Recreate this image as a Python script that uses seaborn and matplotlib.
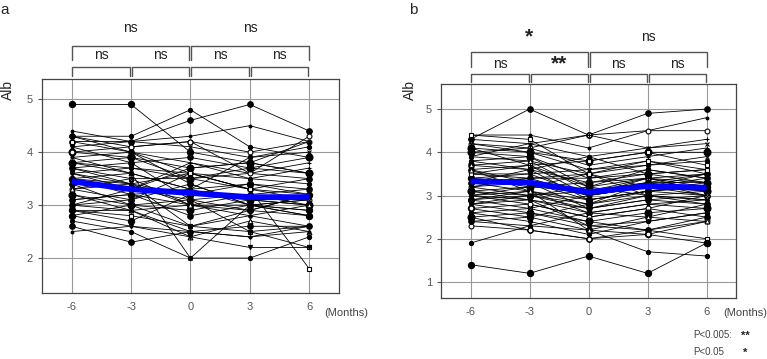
import numpy as np
import pandas as pd
import matplotlib
matplotlib.use("Agg")
import matplotlib.pyplot as plt
import seaborn as sns

# --- DATA ---
months = [-6, -3, 0, 3, 6]

# individual patients, panel a (Alb at -6, -3, 0, 3, 6 months)
alb_a = [
    [4.9, 4.9, 4.0, 3.8, 3.6], [4.3, 4.3, 4.8, 4.1, 3.9], [4.2, 4.2, 4.6, 4.9, 4.4],
    [4.4, 4.2, 4.3, 4.5, 4.2], [4.3, 4.1, 4.2, 4.0, 4.2], [4.1, 4.2, 4.1, 3.9, 4.0],
    [4.0, 3.9, 3.7, 3.8, 3.6], [3.9, 4.0, 3.8, 3.6, 3.8], [3.8, 3.7, 3.6, 3.5, 3.4],
    [3.8, 3.6, 3.3, 3.4, 3.3], [3.7, 3.8, 3.9, 3.7, 3.6], [3.7, 3.5, 3.5, 3.3, 3.2],
    [3.6, 3.4, 3.2, 3.1, 3.0], [3.6, 3.7, 3.5, 3.6, 3.5], [3.5, 3.2, 3.0, 3.0, 2.9],
    [3.5, 3.4, 3.6, 3.3, 3.1], [3.4, 3.3, 3.1, 3.2, 3.3], [3.4, 3.0, 2.6, 2.8, 2.6],
    [3.3, 3.1, 3.4, 3.0, 3.1], [3.3, 3.5, 3.0, 2.9, 3.2], [3.2, 3.0, 2.9, 3.1, 3.0],
    [3.2, 2.9, 2.5, 2.4, 2.6], [3.1, 3.2, 3.3, 3.0, 2.8], [3.0, 2.9, 2.4, 2.7, 2.5],
    [3.0, 3.1, 3.6, 3.3, 3.5], [2.9, 2.8, 2.6, 2.5, 2.2], [2.9, 2.9, 3.0, 2.8, 3.0],
    [2.8, 2.6, 2.4, 2.2, 2.2], [2.8, 3.0, 3.1, 2.9, 2.8], [2.7, 2.5, 2.0, 2.0, 2.4],
    [2.6, 2.3, 2.5, 2.6, 2.6], [2.5, 2.6, 2.5, 2.4, 2.5], [4.0, 4.1, 4.2, 3.6, 4.3],
    [3.9, 3.6, 2.0, 3.0, 3.1], [3.8, 3.9, 3.5, 3.7, 3.9], [3.6, 3.3, 3.8, 3.5, 3.7],
    [3.5, 3.6, 3.3, 3.9, 4.1], [3.3, 3.4, 3.0, 3.2, 3.0], [3.1, 3.2, 2.8, 3.0, 2.8],
    [4.2, 4.0, 3.6, 3.3, 1.8], [3.0, 3.3, 3.7, 3.8, 4.2], [4.1, 3.8, 3.1, 2.5, 2.6],
    [2.9, 2.7, 3.2, 3.4, 3.2], [3.7, 3.4, 2.6, 2.9, 3.2], [4.3, 4.0, 3.4, 3.0, 2.9],
]
mean_a = [3.45, 3.30, 3.23, 3.15, 3.15]

# individual patients, panel b
alb_b = [
    [1.4, 1.2, 1.6, 1.2, 1.9], [1.9, 2.3, 2.2, 1.7, 1.6], [4.3, 5.0, 4.4, 4.9, 5.0],
    [4.4, 4.4, 4.1, 4.5, 4.8], [4.2, 4.1, 4.4, 4.5, 4.5], [4.3, 4.2, 3.9, 4.1, 4.2],
    [4.1, 4.0, 3.8, 4.0, 4.0], [4.0, 4.1, 3.7, 3.9, 4.1], [3.9, 3.8, 3.5, 3.7, 3.8],
    [3.8, 3.9, 3.4, 3.5, 3.6], [3.7, 3.6, 3.3, 3.4, 3.5], [3.6, 3.7, 3.2, 3.6, 3.4],
    [3.5, 3.4, 3.0, 3.3, 3.3], [3.5, 3.5, 3.6, 3.8, 3.5], [3.4, 3.3, 2.9, 3.1, 3.2],
    [3.4, 3.2, 3.1, 3.3, 3.0], [3.3, 3.4, 3.5, 3.2, 3.4], [3.3, 3.1, 2.8, 3.0, 2.9],
    [3.2, 3.3, 3.0, 3.2, 3.1], [3.2, 3.0, 2.7, 2.9, 2.8], [3.1, 3.2, 3.3, 3.5, 3.3],
    [3.1, 2.9, 2.6, 2.8, 2.7], [3.0, 3.1, 2.9, 3.1, 3.0], [3.0, 2.8, 2.5, 2.7, 2.5],
    [2.9, 3.0, 3.2, 3.4, 3.1], [2.9, 2.7, 2.4, 2.2, 2.0], [2.8, 2.9, 2.7, 3.0, 2.9],
    [2.8, 2.6, 2.3, 2.2, 2.4], [2.7, 2.5, 2.2, 2.1, 1.9], [2.6, 2.4, 2.1, 2.4, 2.6],
    [2.5, 2.2, 2.0, 2.2, 2.5], [2.4, 2.3, 2.6, 2.8, 2.9], [2.3, 2.2, 2.0, 2.1, 2.4],
    [4.2, 4.0, 3.6, 3.7, 3.9], [4.0, 3.9, 3.2, 3.0, 3.1], [3.9, 4.2, 4.4, 4.1, 4.3],
    [3.8, 3.6, 2.9, 3.1, 3.3], [3.7, 3.8, 3.1, 3.4, 3.2], [3.6, 3.3, 2.7, 2.9, 3.0],
    [3.5, 3.7, 3.8, 4.0, 3.7], [3.4, 3.5, 3.0, 3.2, 3.5], [3.2, 3.4, 3.4, 3.6, 3.4],
    [3.1, 3.0, 2.8, 3.3, 3.1], [3.0, 3.2, 3.5, 3.0, 2.8], [2.9, 3.1, 2.6, 2.5, 2.8],
    [2.8, 3.0, 3.1, 3.3, 3.5], [2.7, 2.8, 2.5, 2.7, 3.0], [2.6, 2.7, 3.0, 3.2, 3.0],
    [2.5, 2.6, 2.4, 2.6, 2.7], [4.1, 3.7, 3.0, 3.4, 3.3], [3.3, 3.6, 3.9, 3.5, 3.6],
    [3.6, 3.1, 2.2, 2.5, 2.4], [2.4, 2.5, 2.8, 3.1, 3.2], [4.4, 4.3, 3.5, 3.8, 3.6],
    [3.0, 2.9, 2.3, 2.4, 2.6],
]
mean_b = [3.33, 3.30, 3.08, 3.22, 3.18]

# significance labels
sig_a_low = ["ns", "ns", "ns", "ns"]
sig_a_high = ["ns", "ns"]
sig_b_low = ["ns", "**", "ns", "ns"]
sig_b_high = ["*", "ns"]

# marker styles cycled over patients: (marker, size, filled)
marker_styles = [("o", 4.5, True), ("o", 3, True), ("o", 4, True), ("o", 2, True),
                 ("o", 3.5, False), ("x", 3, True), ("o", 5, True), ("+", 3.5, True),
                 ("o", 3, True), ("^", 3.5, False), ("o", 4, True), ("s", 3, False),
                 ("o", 2.5, True), ("v", 3, True)]

# --- PLOT ---
sns.set_style("white")
plt.rcParams['font.family'] = ['Liberation Sans', 'DejaVu Sans']

fig = plt.figure(figsize=(7.67, 3.59), dpi=100)
ax_a = fig.add_axes([0.0548, 0.1838, 0.387, 0.596])
ax_b = fig.add_axes([0.575, 0.170, 0.3846, 0.596])


def draw_panel(ax, alb, mean, ylim, yticks):
    for i, vals in enumerate(alb):
        m, s, filled = marker_styles[i % len(marker_styles)]
        sns.lineplot(x=months, y=vals, ax=ax, color="black", lw=0.6,
                     marker=m, ms=s, mec="black", mew=0.8,
                     mfc="black" if filled else "white", zorder=2)
    sns.lineplot(x=months, y=mean, ax=ax, color="#0000ff", lw=4.2,
                 solid_capstyle="butt", zorder=5)
    ax.set_xlim(-7.5, 7.5)
    ax.set_ylim(*ylim)
    ax.set_xticks(months)
    ax.set_xticklabels([str(m) for m in months])
    ax.set_yticks(yticks)
    ax.set_yticklabels([str(t) for t in yticks])
    ax.grid(True, color="#999999", lw=0.8)
    ax.set_axisbelow(True)
    for sp in ax.spines.values():
        sp.set_color("#444444")
        sp.set_linewidth(0.9)
    ax.tick_params(axis="both", labelsize=8, colors="#555555", length=3,
                   width=0.8, direction="out", left=True, bottom=False)
    ax.set_xlabel("")
    ax.set_ylabel("")


def draw_brackets(ax, low, high, y_low, y_high, low_fs, high_fs):
    tr = ax.get_xaxis_transform()
    kw = dict(color="#555555", lw=1.0, transform=tr, clip_on=False)
    # lower brackets between consecutive time points
    yb, yt, yl = y_low
    for j, lab in enumerate(low):
        x0 = months[j] + (0.05 if j > 0 else 0)
        x1 = months[j + 1] - 0.05
        ax.plot([x0, x0, x1, x1], [yb, yt, yt, yb], **kw)
        ax.text((months[j] + months[j + 1]) / 2, yl, lab, transform=tr,
                ha="center", va="center", fontsize=low_fs[j], color="#222222",
                fontweight="bold" if "*" in lab else "normal")
    # upper brackets -6..0 and 0..6
    yb, yt, yl = y_high
    for j, lab in enumerate(high):
        x0 = [-6, 0.05][j]
        x1 = [-0.05, 6][j]
        ax.plot([x0, x0, x1, x1], [yb, yt, yt, yb], **kw)
        ax.text((x0 + x1) / 2, yl, lab, transform=tr,
                ha="center", va="center", fontsize=high_fs[j], color="#222222",
                fontweight="bold" if "*" in lab else "normal")


draw_panel(ax_a, alb_a, mean_a, (1.34, 5.38), [2, 3, 4, 5])
draw_panel(ax_b, alb_b, mean_b, (0.63, 5.58), [1, 2, 3, 4, 5])

draw_brackets(ax_a, sig_a_low, sig_a_high, (1.014, 1.056, 1.112),
              (1.089, 1.154, 1.238), [10, 10, 10, 10], [10, 10])
draw_brackets(ax_b, sig_b_low, sig_b_high, (1.009, 1.047, 1.092),
              (1.079, 1.150, 1.22), [10, 15, 10, 10], [15, 10])

# axis titles and panel letters
fig.text(8 / 767, 1 - 90 / 359, "Alb", rotation=90, ha="center", va="center", fontsize=10)
fig.text(410 / 767, 1 - 90 / 359, "Alb", rotation=90, ha="center", va="center", fontsize=10)
fig.text(5 / 767, 1 - 10 / 359, "a", ha="center", va="center", fontsize=11)
fig.text(413 / 767, 1 - 10 / 359, "b", ha="center", va="center", fontsize=11)
fig.text(346 / 767, 1 - 313 / 359, "(Months)", ha="center", va="center", fontsize=8, color="#444444")
fig.text(745 / 767, 1 - 313 / 359, "(Months)", ha="center", va="center", fontsize=8, color="#444444")

# p-value legend
fig.text(693 / 767, 1 - 335 / 359, "P<0.005:", ha="left", va="center", fontsize=7, color="#444444")
fig.text(741 / 767, 1 - 336 / 359, "**", ha="left", va="center", fontsize=8, color="#222222", fontweight="bold")
fig.text(693 / 767, 1 - 352 / 359, "P<0.05", ha="left", va="center", fontsize=7, color="#444444")
fig.text(743 / 767, 1 - 353 / 359, "*", ha="left", va="center", fontsize=8, color="#222222", fontweight="bold")

fig.savefig("out.png", dpi=100)
plt.close(fig)
